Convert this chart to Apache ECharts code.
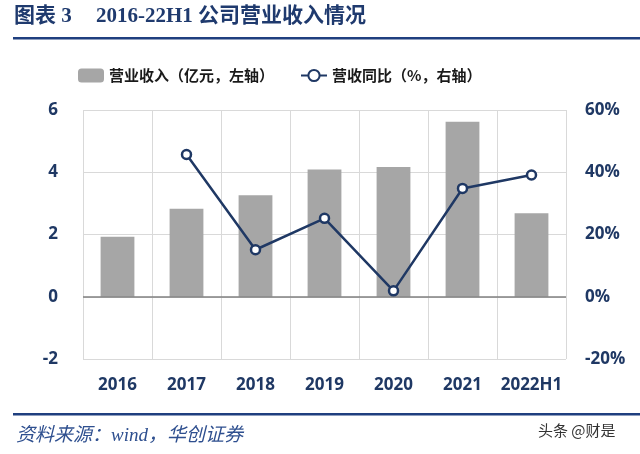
<!DOCTYPE html>
<html><head><meta charset="utf-8">
<script src="https://cdn.jsdelivr.net/npm/echarts@6/dist/echarts.min.js"></script>
<style>html,body{margin:0;padding:0;background:#fff}#c{width:640px;height:454px}</style>
</head><body><div id="c"></div>
<script>
const categories = ['2016','2017','2018','2019','2020','2021','2022H1'];
const revenue = [1.93, 2.83, 3.26, 4.09, 4.17, 5.62, 2.68];
const growth = [null, 45.7, 15.1, 25.2, 1.9, 34.8, 39.1];
const leftTicks = {min:-2, max:6, interval:2};
const rightTicks = {min:-20, max:60, interval:20};

const navy = '#1F3864';
const chart = echarts.init(document.getElementById('c'));
chart.setOption({
  animation:false,
  graphic:[
    {type:'text', left:14, top:6, style:{text:'图表 3', font:'bold 21px "Liberation Serif","Noto Sans CJK SC"', fill:'#1F3A6E'}},
    {type:'text', left:96, top:6, style:{text:'2016-22H1 公司营业收入情况', font:'bold 21px "Liberation Serif","Noto Sans CJK SC"', fill:'#1F3A6E'}},
    {type:'rect', shape:{x:13,y:37,width:627,height:2.5}, style:{fill:'#1F3F7F'}},
    {type:'rect', shape:{x:13,y:413,width:627,height:2.5}, style:{fill:'#1F3F7F'}},
    {type:'text', left:16, top:426, style:{text:'资料来源：wind，华创证券', font:'italic 19px "Liberation Serif","Noto Sans CJK SC"', fill:'#2E4F8F'}},
    {type:'text', left:538, top:423, style:{text:'头条 @财是', font:'15px "Noto Sans CJK SC"', fill:'#333'}}
  ],
  legend:{
    top:63, left:73, itemWidth:26, itemHeight:14, itemGap:26,
    textStyle:{fontSize:15, fontWeight:'bold', color:'#1a1a1a', fontFamily:'"Noto Sans CJK SC"'},
    data:['营业收入（亿元，左轴）','营收同比（%，右轴）']
  },
  grid:{left:83, right:74, top:110, bottom:95, containLabel:false},
  xAxis:{
    type:'category', data:categories,
    axisLine:{show:false}, axisTick:{show:false},
    splitLine:{show:true, lineStyle:{color:'#D9D9D9', width:1}},
    axisLabel:{interval:0, margin:18, fontSize:17, fontWeight:'bold', color:navy, fontFamily:'"Open Sans"'}
  },
  yAxis:[
    {type:'value', min:leftTicks.min, max:leftTicks.max, interval:leftTicks.interval,
     axisLine:{show:false}, axisTick:{show:false},
     splitLine:{lineStyle:{color:'#D9D9D9', width:1}},
     axisLabel:{margin:25, fontSize:17, fontWeight:'bold', color:navy, fontFamily:'"Open Sans"'}},
    {type:'value', min:rightTicks.min, max:rightTicks.max, interval:rightTicks.interval,
     axisLine:{show:false}, axisTick:{show:false}, splitLine:{show:false},
     axisLabel:{margin:19, fontSize:17, fontWeight:'bold', color:navy, fontFamily:'"Open Sans"', formatter:'{value}%'}}
  ],
  series:[
    {name:'营业收入（亿元，左轴）', type:'bar', data:revenue, barWidth:'49%', yAxisIndex:0,
     itemStyle:{color:'#A6A6A6'},
     markLine:{silent:true, symbol:'none', label:{show:false}, lineStyle:{color:'#808080', width:1.5, type:'solid'}, data:[{yAxis:0}]}},
    {name:'营收同比（%，右轴）', type:'line', data:growth, yAxisIndex:1,
     lineStyle:{color:navy, width:2.5}, itemStyle:{color:'#fff', borderColor:navy, borderWidth:2.5},
     symbol:'circle', symbolSize:9, showSymbol:true, z:5}
  ]
});
</script></body></html>
